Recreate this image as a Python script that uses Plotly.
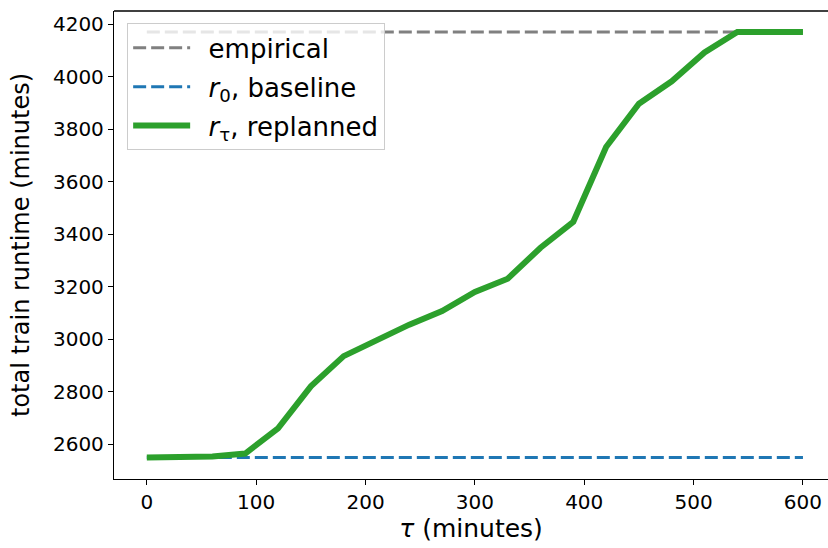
import plotly.graph_objects as go

tau = [0, 30, 60, 90, 120, 150, 180, 210, 240, 270, 300, 330, 360, 390,
       420, 450, 480, 510, 540, 570, 600]
replanned = [2549, 2550, 2553, 2564, 2660, 2820, 2935, 2995, 3055, 3107,
             3180, 3230, 3348, 3447, 3732, 3897, 3982, 4092, 4170, 4170, 4170]
empirical_value = 4170
baseline_value = 2549

x_ticks = [0, 100, 200, 300, 400, 500, 600]
y_ticks = [2600, 2800, 3000, 3200, 3400, 3600, 3800, 4000, 4200]

FONT = "DejaVu Sans"
SP = "\u00a0\u2009"

fig = go.Figure()
fig.add_trace(go.Scatter(
    x=[tau[0], tau[-1]], y=[empirical_value, empirical_value], mode="lines",
    line=dict(color="#808080", width=3, dash="13px,5px"), name=SP + "empirical",
    legendgroup="a"))
fig.add_trace(go.Scatter(
    x=[tau[0], tau[-1]], y=[baseline_value, baseline_value], mode="lines",
    line=dict(color="#1f77b4", width=3, dash="13px,5px"),
    name=SP + "<i>r</i><sub>0</sub>, baseline", legendgroup="b"))
fig.add_trace(go.Scatter(
    x=tau, y=replanned, mode="lines",
    line=dict(color="#2ca02c", width=6), name=SP + "<i>r</i><sub>τ</sub>, replanned",
    legendgroup="c"))

axis_common = dict(showgrid=False, zeroline=False, showline=True, linecolor="black",
                   linewidth=1.3, ticks="outside", ticklen=5, tickwidth=1.3,
                   tickcolor="black", tickfont=dict(family=FONT, size=20, color="black"))

fig.update_xaxes(range=[-30, 622.9], tickvals=x_ticks,
                 title=dict(text="<i>τ</i> (minutes)", font=dict(family=FONT, size=25, color="black"),
                            standoff=4),
                 **axis_common)
fig.update_yaxes(range=[2467, 4250], tickvals=y_ticks,
                 title=dict(text="total train runtime (minutes)",
                            font=dict(family=FONT, size=24, color="black"), standoff=16),
                 **axis_common)

fig.add_shape(type="line", xref="paper", yref="paper", x0=0, x1=1, y0=1, y1=1,
              line=dict(color="black", width=1.3))

fig.update_layout(
    width=828, height=548,
    margin=dict(l=114, r=0, t=11, b=69),
    plot_bgcolor="white", paper_bgcolor="white",
    font=dict(family=FONT, color="black"),
    legend=dict(x=0.018, y=0.974, xanchor="left", yanchor="top",
                bgcolor="rgba(255,255,255,0.8)", bordercolor="#cccccc", borderwidth=1.3,
                font=dict(family=FONT, size=26, color="black"), itemwidth=57,
                tracegroupgap=2),
)

fig.write_html("out.html")
